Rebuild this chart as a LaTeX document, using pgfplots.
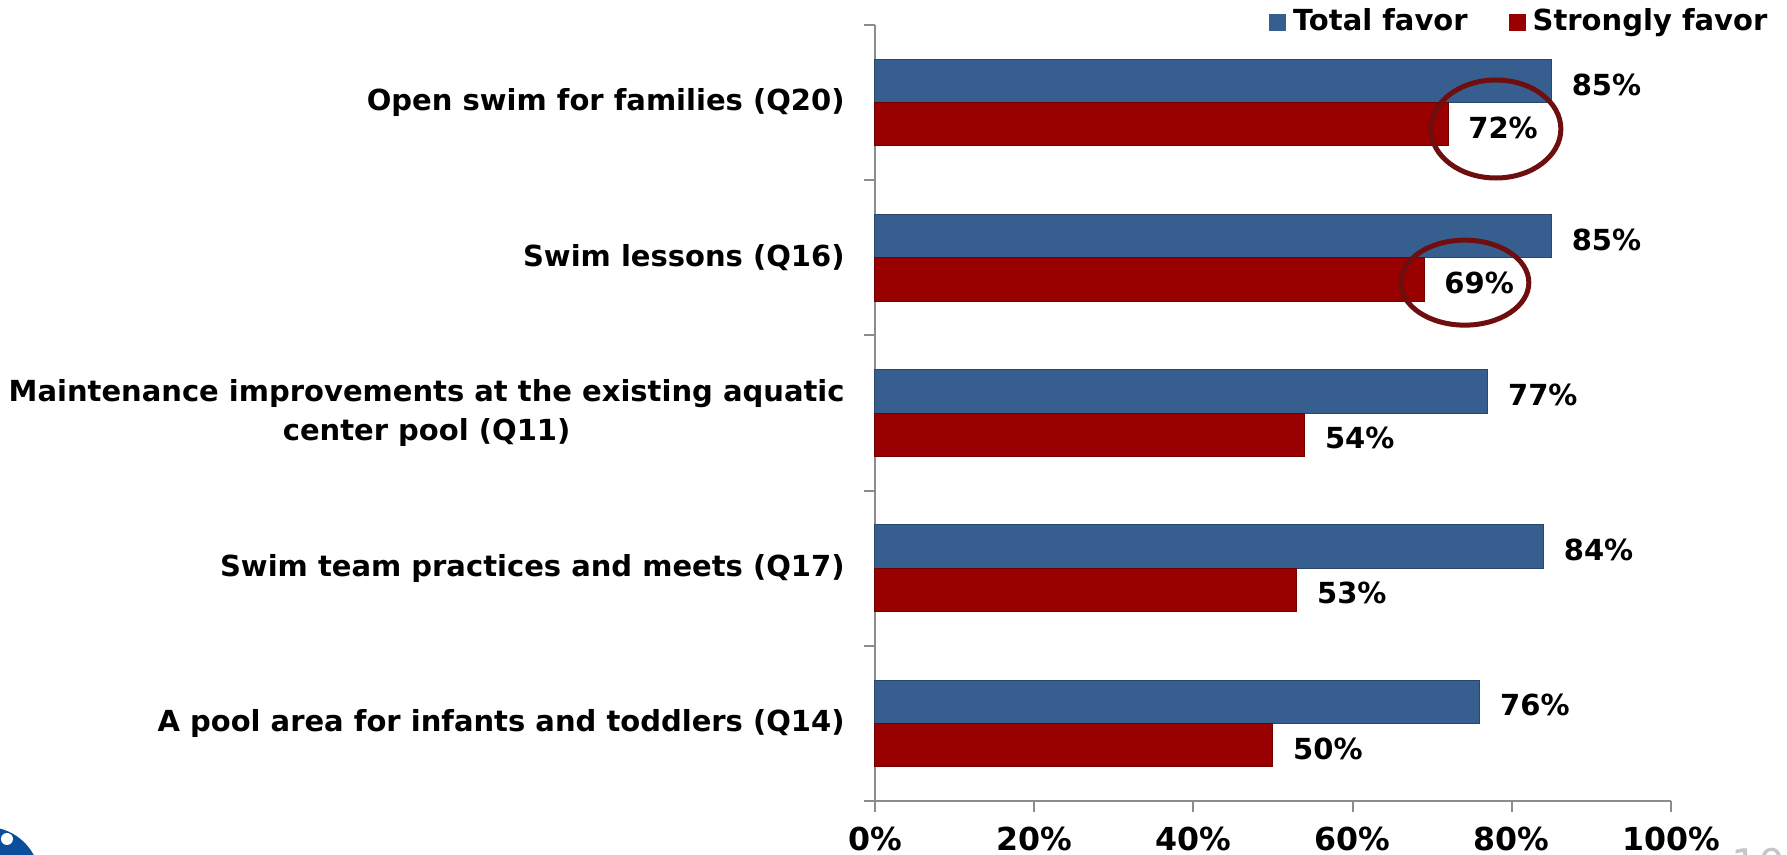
\documentclass[border=0pt]{standalone}
\usepackage{pgfplots}
\pgfplotsset{compat=1.18}
\usepackage{fontspec}
\setmainfont{DejaVu Sans}
\definecolor{favblue}{HTML}{365F8F}
\definecolor{favred}{HTML}{990000}
\definecolor{ringred}{HTML}{6E0E0E}
\definecolor{axisgray}{HTML}{8C8C8C}
\newcommand{\lblfont}{\bfseries\fontsize{8.25}{11.1}\selectfont}
\begin{document}
\begin{tikzpicture}
\useasboundingbox (-87.5mm,-5.4mm) rectangle (91.2mm,80.1mm);
% logo and page number, cut by the page edge
\fill[fill={rgb,255:red,11;green,79;blue,156}] (-88.8mm,-7.9mm) circle (5.3mm);
\fill[white] (-86.8mm,-3.8mm) circle (0.6mm);
\node[anchor=north west, inner sep=0pt, text=gray!45, font=\fontsize{12}{14}\selectfont] at (85.6mm,-4.6mm) {10};
\begin{axis}[
  width=79.6mm, height=77.6mm, scale only axis,
  xbar, bar width=4.33mm,
  xmin=0, xmax=100, ymin=-0.5, ymax=4.5,
  axis lines*=left,
  axis line style={axisgray, line width=0.2mm, -},
  tick align=outside,
  major tick length=1.1mm,
  tick style={axisgray, line width=0.2mm},
  xtick={0,20,40,60,80,100},
  xticklabels={0\%,20\%,40\%,60\%,80\%,100\%},
  xticklabel style={font=\bfseries\fontsize{9}{11}\selectfont, yshift=-0.3mm},
  ytick={-0.5,0.5,1.5,2.5,3.5,4.5},
  yticklabels={},
  extra y ticks={0,1,2,3,4},
  extra y tick labels={A pool area for infants and toddlers (Q14),
    Swim team practices and meets (Q17),
    {Maintenance improvements at the existing aquatic\\center pool (Q11)},
    Swim lessons (Q16),
    Open swim for families (Q20)},
  extra y tick style={major tick length=0pt},
  yticklabel style={font=\lblfont, align=center, xshift=-1.8mm},
  point meta=x,
  /pgf/number format/assume math mode=true,
  nodes near coords={\pgfmathprintnumber{\pgfplotspointmeta}\%},
  nodes near coords style={font=\lblfont, text=black, xshift=0.8mm, yshift=-0.35mm},
  clip=false,
  legend style={draw=none, fill=none, at={(1.1307,1.0035)}, anchor=east,
    font=\lblfont, inner sep=0pt,
    /tikz/every even column/.append style={column sep=3.4mm}},
  legend columns=2,
  legend cell align=left,
]
\addplot[xbar, fill=favblue, draw=favblue!75!black, line width=0.1mm, bar shift=2.165mm,
  legend image code/.code={\fill[favblue] (0mm,-0.8mm) rectangle (1.6mm,0.8mm);}]
  coordinates {(76,0) (84,1) (77,2) (85,3) (85,4)};
\addlegendentry{Total favor}
\addplot[xbar, fill=favred, draw=favred!75!black, line width=0.1mm, bar shift=-2.165mm,
  legend image code/.code={\fill[favred] (0mm,-0.8mm) rectangle (1.6mm,0.8mm);}]
  coordinates {(50,0) (53,1) (54,2) (69,3) (72,4)};
\addlegendentry{Strongly favor}
\draw[ringred, line width=0.5mm] (axis cs:78,3.83) ellipse [x radius=6.5mm, y radius=4.9mm];
\draw[ringred, line width=0.5mm] (axis cs:74.1,2.84) ellipse [x radius=6.4mm, y radius=4.25mm];
\end{axis}
\end{tikzpicture}
\end{document}
